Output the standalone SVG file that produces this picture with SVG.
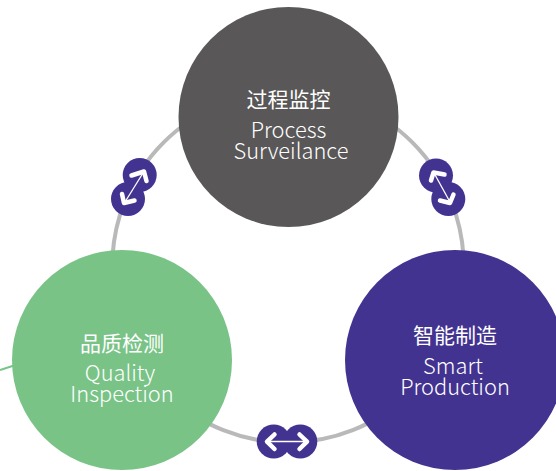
<svg xmlns="http://www.w3.org/2000/svg" width="556" height="471" viewBox="0 0 556 471">
<style>
text{font-family:"Noto Sans CJK SC","Noto Sans",sans-serif;fill:#fff;text-anchor:middle}
.zh{font-size:21px;font-weight:400}
.en{font-size:21.8px;font-weight:300}
.btn{fill:#433391}
.ar{fill:none;stroke:#fff;stroke-width:4.5;stroke-linecap:round;stroke-linejoin:round}
.sh{fill:none;stroke:#fff;stroke-width:1.3}
</style>
<rect width="556" height="471" fill="#fff"/>
<g id="connectors">
<circle cx="288" cy="266.7" r="175.8" fill="none" stroke="#b9b9b9" stroke-width="4"/>
<line x1="0" y1="370" x2="14" y2="365.5" stroke="#79c387" stroke-width="2"/>
<g id="link-left">
<circle class="btn" cx="139.700" cy="175" r="17"/><circle class="btn" cx="128" cy="199" r="17"/>
<path class="sh" d="M143 173L125 202"/>
<path class="ar" d="M131.500 175.500L144 171.500L146.500 181"/>
<path class="ar" d="M122 194L124 203L134.500 200.500"/>
</g>
<g id="link-right">
<circle class="btn" cx="436" cy="175.500" r="17"/><circle class="btn" cx="448.300" cy="199" r="17"/>
<path class="sh" d="M434 173L450 202"/>
<path class="ar" d="M431 180.500L433.500 172.500L444.500 174.500"/>
<path class="ar" d="M440 200.500L450 203L453.500 194.500"/>
</g>
<g id="link-bottom">
<circle class="btn" cx="273.700" cy="441.500" r="17"/><circle class="btn" cx="300.300" cy="441.500" r="17"/>
<path class="sh" d="M270 441.500H304"/>
<path class="ar" d="M274.500 434.500L267 441.700L274.500 449"/>
<path class="ar" d="M299.500 434.500L307 441.700L299.500 449"/>
</g>
</g>
<g id="node-process">
<circle cx="288.500" cy="117" r="110" fill="#595757"/>
<text class="zh" x="288.500" y="107">过程监控</text>
<text class="en" x="288.500" y="137.500">Process</text>
<text class="en" x="291" y="159">Surveilance</text>
</g>
<g id="node-quality">
<circle cx="122" cy="360" r="110" fill="#79c387"/>
<text class="zh" x="122" y="350.500">品质检测</text>
<text class="en" x="120" y="381">Quality</text>
<text class="en" x="122" y="402">Inspection</text>
</g>
<g id="node-smart">
<circle cx="455" cy="360" r="110" fill="#433391"/>
<text class="zh" x="455" y="343">智能制造</text>
<text class="en" x="453" y="373.500">Smart</text>
<text class="en" x="455" y="395">Production</text>
</g>
</svg>
